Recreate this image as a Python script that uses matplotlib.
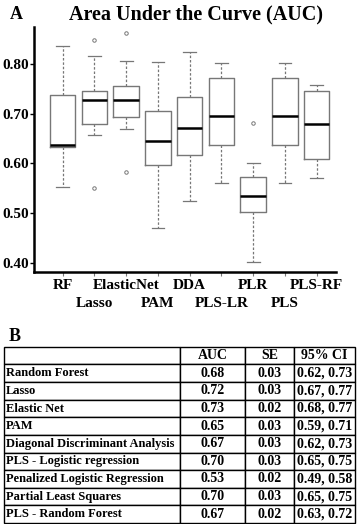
import matplotlib.pyplot as plt

plt.rcParams['font.family'] = 'Liberation Serif'
plt.rcParams['font.weight'] = 'bold'

# box summary values
methods = ["RF", "Lasso", "ElasticNet", "PAM", "DDA", "PLS-LR", "PLR", "PLS", "PLS-RF"]
whislo = [0.553, 0.657, 0.669, 0.469, 0.525, 0.560, 0.401, 0.561, 0.571]
q1 = [0.633, 0.680, 0.694, 0.596, 0.617, 0.637, 0.502, 0.637, 0.608]
med = [0.637, 0.728, 0.727, 0.645, 0.671, 0.696, 0.534, 0.696, 0.680]
q3 = [0.737, 0.746, 0.757, 0.706, 0.733, 0.772, 0.573, 0.772, 0.746]
whishi = [0.837, 0.817, 0.806, 0.804, 0.825, 0.802, 0.600, 0.802, 0.759]
fliers = [[], [0.848, 0.550], [0.863, 0.582], [], [], [], [0.682], [], []]

# table values for panel B
row_names = ["Random Forest", "Lasso", "Elastic Net", "PAM",
             "Diagonal Discriminant Analysis", "PLS - Logistic regression",
             "Penalized Logistic Regression", "Partial Least Squares",
             "PLS - Random Forest"]
auc = ["0.68", "0.72", "0.73", "0.65", "0.67", "0.70", "0.53", "0.70", "0.67"]
se = ["0.03", "0.03", "0.02", "0.03", "0.03", "0.03", "0.02", "0.03", "0.02"]
ci = ["0.62, 0.73", "0.67, 0.77", "0.68, 0.77", "0.59, 0.71", "0.62, 0.73",
      "0.65, 0.75", "0.49, 0.58", "0.65, 0.75", "0.63, 0.72"]
col_names = ["", "AUC", "SE", "95% CI"]

fig = plt.figure(figsize=(3.58, 5.24), dpi=100)

# ---- panel A: boxplot
ax = fig.add_axes([0.0958, 0.4809, 0.8419, 0.4676])
stats = []
for i in range(len(methods)):
    stats.append(dict(whislo=whislo[i], q1=q1[i], med=med[i], q3=q3[i],
                      whishi=whishi[i], fliers=fliers[i], label=methods[i]))
grey = "#777777"
ax.bxp(stats, widths=0.8, showfliers=True,
       boxprops=dict(color=grey, linewidth=1.0),
       medianprops=dict(color="black", linewidth=1.8),
       whiskerprops=dict(color=grey, linewidth=0.9, linestyle=(0, (2, 1.5))),
       capprops=dict(color=grey, linewidth=0.9),
       flierprops=dict(marker="o", markersize=2.5, markerfacecolor="none",
                       markeredgecolor=grey, markeredgewidth=0.7))

ax.set_xlim(0.105, 9.6)
ax.set_ylim(0.381, 0.875)
ax.set_yticks([0.40, 0.50, 0.60, 0.70, 0.80])
ax.set_yticklabels(["0.40", "0.50", "0.60", "0.70", "0.80"], fontsize=11, fontweight="bold")

# alternate the method names over two rows
pos = list(range(1, len(methods) + 1))
ax.set_xticks(pos[0::2])
ax.set_xticklabels(methods[0::2], fontsize=11, fontweight="bold")
ax.set_xticks(pos[1::2], minor=True)
ax.set_xticklabels(methods[1::2], minor=True, fontsize=11, fontweight="bold")
ax.tick_params(axis="x", which="major", length=3, color=grey, width=0.8, pad=2)
ax.tick_params(axis="x", which="minor", length=3, color=grey, width=0.8, pad=15)
ax.tick_params(axis="y", length=3, width=1.0, pad=1)
for s in ["top", "right"]:
    ax.spines[s].set_visible(False)
ax.spines["left"].set_linewidth(1.8)
ax.spines["bottom"].set_linewidth(1.8)

fig.text(0.045, 0.972, "A", fontsize=13, fontweight="bold", ha="center", va="center")
fig.text(0.547, 0.972, "Area Under the Curve (AUC)", fontsize=14.5,
         fontweight="bold", ha="center", va="center")

# ---- panel B: table
fig.text(0.04, 0.342, "B", fontsize=13, fontweight="bold", ha="center", va="bottom")
tax = fig.add_axes([0.011, 0.002, 0.981, 0.336])
tax.axis("off")
cells = [[row_names[i], auc[i], se[i], ci[i]] for i in range(len(row_names))]
tbl = tax.table(cellText=[col_names] + cells, bbox=[0, 0, 1, 1],
                colWidths=[176, 65, 49, 61], cellLoc="center")
tbl.auto_set_font_size(False)
for (r, c), cell in tbl.get_celld().items():
    cell.set_linewidth(1.0)
    cell.set_edgecolor("black")
    t = cell.get_text()
    t.set_fontweight("bold")
    if c == 0:
        t.set_fontsize(9)
        t.set_ha("left")
        cell.PAD = 0.01
    else:
        t.set_fontsize(10)

fig.savefig("out.png", dpi=100)
